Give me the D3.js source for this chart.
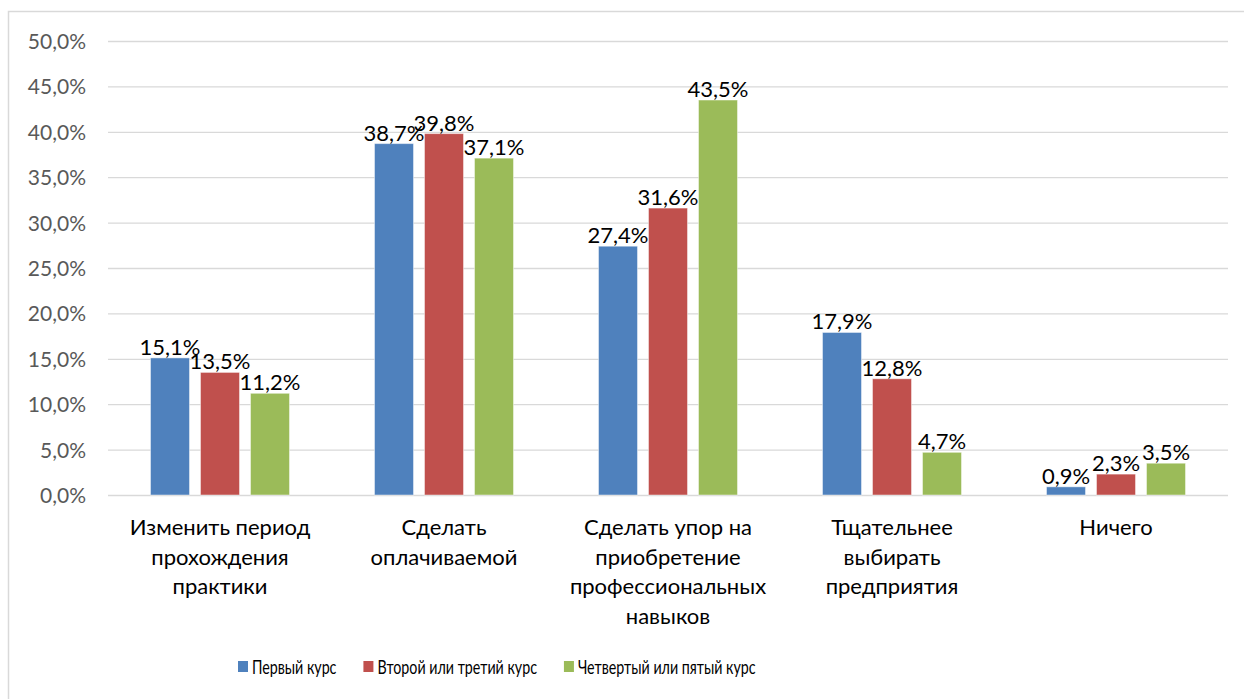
<!DOCTYPE html>
<html>
<head>
<meta charset="utf-8">
<script src="https://cdn.jsdelivr.net/npm/d3@7"></script>
<style>
  html, body { margin: 0; padding: 0; background: #fff; }
  svg { display: block; font-family: Lato, "Open Sans", sans-serif; }
</style>
</head>
<body>
<script>
// survey answers, share of respondents per course group
var categories = [
  ['Изменить период', 'прохождения', 'практики'],
  ['Сделать', 'оплачиваемой'],
  ['Сделать упор на', 'приобретение', 'профессиональных', 'навыков'],
  ['Тщательнее', 'выбирать', 'предприятия'],
  ['Ничего']
]
var seriesNames = ['Первый курс', 'Второй или третий курс', 'Четвертый или пятый курс']
var firstCourse  = [0.151, 0.387, 0.274, 0.179, 0.009]
var secondThird  = [0.135, 0.398, 0.316, 0.128, 0.023]
var fourthFifth  = [0.112, 0.371, 0.435, 0.047, 0.035]
var yTicks = [0, 0.05, 0.10, 0.15, 0.20, 0.25, 0.30, 0.35, 0.40, 0.45, 0.50]

var colors = ['#4f81bd', '#c0504d', '#9bbb59']
var series = [firstCourse, secondThird, fourthFifth]

var width = 1244, height = 699
var plot = { left: 108, right: 1228, top: 41, bottom: 495 }

var ru = d3.formatLocale({ decimal: ',', thousands: ' ', grouping: [3], currency: ['', ' ₽'] })
var pct = ru.format('.1%')

var svg = d3.select('body').append('svg')
    .attr('width', width)
    .attr('height', height)

// chart frame (runs off the right / bottom edge like the source)
svg.append('rect')
    .attr('x', 8.5).attr('y', 11.5)
    .attr('width', 1300).attr('height', 800)
    .attr('fill', 'none')
    .attr('stroke', '#d9d9d9')
    .attr('stroke-width', 1.5)

var y = d3.scaleLinear()
    .domain([0, 0.5])
    .range([plot.bottom, plot.top])

var x0 = d3.scaleBand()
    .domain(d3.range(categories.length))
    .range([plot.left, plot.right])

var x1 = d3.scaleBand()
    .domain(d3.range(series.length))
    .range([42.5, 181.5])
    .paddingInner(0.22)

// gridlines + tick labels
var yAxis = d3.axisLeft(y)
    .tickValues(yTicks)
    .tickSize(-(plot.right - plot.left))
    .tickPadding(22)
    .tickFormat(pct)

var ga = svg.append('g')
    .attr('transform', 'translate(' + plot.left + ',0)')
    .call(yAxis)
ga.select('.domain').remove()
ga.selectAll('.tick line').attr('stroke', '#d9d9d9').attr('stroke-width', 1.3)
ga.selectAll('.tick text')
    .attr('fill', '#595959')
    .style('font-size', '21px')
    .style('font-family', 'Lato, sans-serif')
    .attr('dy', '0.36em')

// bars
var groups = svg.append('g').selectAll('g.grp')
    .data(categories)
    .enter().append('g')
    .attr('class', 'grp')
    .attr('transform', function(d, i) { return 'translate(' + x0(i) + ',0)' })

groups.each(function(cat, ci) {
  var g = d3.select(this)
  series.forEach(function(vals, si) {
    g.append('rect')
      .attr('x', x1(si))
      .attr('y', y(vals[ci]))
      .attr('width', x1.bandwidth())
      .attr('height', y(0) - y(vals[ci]))
      .attr('fill', colors[si])
      .attr('stroke', '#ffffff')
      .attr('stroke-opacity', 0.45)
      .attr('stroke-width', 1)
  })
  series.forEach(function(vals, si) {
    g.append('text')
      .attr('x', x1(si) + x1.bandwidth() / 2)
      .attr('y', y(vals[ci]) - 3)
      .attr('text-anchor', 'middle')
      .attr('fill', '#000')
      .style('font-size', '22px')
      .text(pct(vals[ci]))
  })
  // category label
  var t = g.append('text')
    .attr('text-anchor', 'middle')
    .attr('fill', '#000')
    .style('font-size', '22px')
  cat.forEach(function(line, li) {
    t.append('tspan')
      .attr('x', x0.bandwidth() / 2)
      .attr('y', 535 + li * 29.5)
      .text(line)
  })
})

// legend - source font is condensed, so squeeze Lato horizontally
var squeeze = 0.75
var legend = svg.append('g').attr('transform', 'translate(238,661)')
var cursor = 0
seriesNames.forEach(function(name, i) {
  var item = legend.append('g').attr('transform', 'translate(' + cursor + ',0)')
  item.append('rect')
    .attr('width', 10).attr('height', 11)
    .attr('fill', colors[i])
  var txt = item.append('text')
    .attr('transform', 'translate(14,13) scale(' + squeeze + ',1)')
    .attr('fill', '#000')
    .style('font-size', '19px')
    .text(name)
  cursor += 14 + txt.node().getComputedTextLength() * squeeze + 27
})
</script>
</body>
</html>
